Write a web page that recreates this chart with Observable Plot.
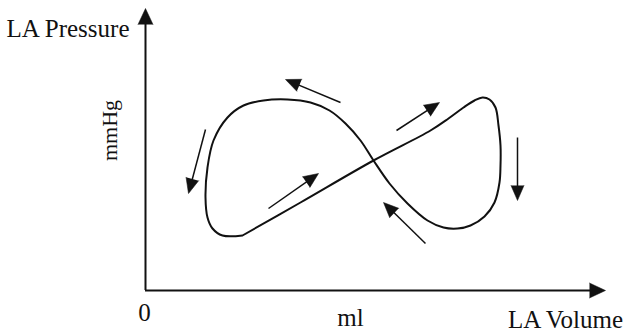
<!DOCTYPE html>
<html><head><meta charset="utf-8">
<script src="https://cdn.jsdelivr.net/npm/d3@7"></script>
<script src="https://cdn.jsdelivr.net/npm/@observablehq/plot@0.6"></script>
<style>html,body{margin:0;padding:0;background:#fff}</style>
</head><body><div id="chart"></div>
<script>
// Pressure–volume loop (schematic units), traced in loop order
const loopVolume   = [97,155,228,285,303,318,329,337,344,350,353,355,355,354,349,339,325,312,298,282,262,244,228,215,200,184,165,142,118,98,82,68,62,60,62,67,77,97];
const loopPressure = [55,88,130,160,172,183,190,193,191,183,165,145,125,108,88,74,65,62,63,70,87,107,130,150,167,180,188,191,190,185,173,150,123,93,73,62,55,55];

// Direction arrows (tail -> tip)
const arrowTailVolume   = [195, 60, 123, 251, 372, 280];
const arrowTailPressure = [188, 161, 82, 160, 153, 47];
const arrowTipVolume    = [140, 43, 173, 294, 372, 238];
const arrowTipPressure  = [211, 97, 117, 188, 90, 88];

// Axis extents
const volumeAxisMax = 460;
const pressureAxisMax = 282;

const labels = {pressure: "LA Pressure", pressureUnit: "mmHg", origin: "0", volumeUnit: "ml", volume: "LA Volume"};

const loop = loopVolume.map((v, i) => ({v, p: loopPressure[i]}));
const arrows = arrowTailVolume.map((v, i) => {
  const dx = arrowTipVolume[i] - v, dy = arrowTipPressure[i] - arrowTailPressure[i];
  const len = Math.hypot(dx, dy);
  return {v0: v, p0: arrowTailPressure[i], v1: arrowTipVolume[i], p1: arrowTipPressure[i],
          ux: dx / len, uy: dy / len, angle: Math.atan2(dx, dy) * 180 / Math.PI};
});
const axisHeads = [
  {v: volumeAxisMax, p: 0, angle: 90},
  {v: 0, p: pressureAxisMax, angle: 0}
];

const ink = "#111";
const font = "'Liberation Serif', 'Times New Roman', serif";

const chart = Plot.plot({
  width: 643, height: 332,
  marginTop: 0, marginRight: 0, marginBottom: 0, marginLeft: 0,
  x: {domain: [0, volumeAxisMax], range: [145, 605], axis: null},
  y: {domain: [0, pressureAxisMax], range: [290, 8], axis: null},
  style: {fontFamily: font, background: "white", color: ink},
  marks: [
    // axes
    Plot.ruleY([0], {x1: 0, x2: volumeAxisMax - 10, stroke: ink, strokeWidth: 2}),
    Plot.ruleX([0], {y1: 0, y2: pressureAxisMax - 10, stroke: ink, strokeWidth: 2}),
    Plot.vector(axisHeads, {x: "v", y: "p", rotate: "angle", length: 16, r: 7.5, shape: "spike", anchor: "end", fill: ink, stroke: ink, strokeWidth: 0.5}),
    // loop
    Plot.line(loop, {x: "v", y: "p", curve: "catmull-rom", stroke: ink, strokeWidth: 2}),
    // arrows
    Plot.link(arrows, {x1: "v0", y1: "p0", x2: d => d.v1 - 8 * d.ux, y2: d => d.p1 - 8 * d.uy, stroke: ink, strokeWidth: 1.5}),
    Plot.vector(arrows, {x: "v1", y: "p1", rotate: "angle", length: 15, r: 6.5, shape: "spike", anchor: "end", fill: ink, stroke: ink, strokeWidth: 0.5}),
    // labels
    Plot.text([labels.pressure], {x: -16, y: 254, text: d => d, textAnchor: "end", lineAnchor: "bottom", fontSize: 25, fill: ink}),
    Plot.text([labels.pressureUnit], {x: -36, y: 160, text: d => d, rotate: -90, textAnchor: "middle", lineAnchor: "middle", fontSize: 22, fill: ink}),
    Plot.text([labels.origin], {x: -1, y: -30, text: d => d, textAnchor: "middle", lineAnchor: "bottom", fontSize: 25, fill: ink}),
    Plot.text([labels.volumeUnit], {x: 205, y: -35, text: d => d, textAnchor: "middle", lineAnchor: "bottom", fontSize: 25, fill: ink}),
    Plot.text([labels.volume], {x: 420, y: -37, text: d => d, textAnchor: "middle", lineAnchor: "bottom", fontSize: 25, fill: ink})
  ]
});
document.getElementById("chart").appendChild(chart);
</script>
</body></html>
